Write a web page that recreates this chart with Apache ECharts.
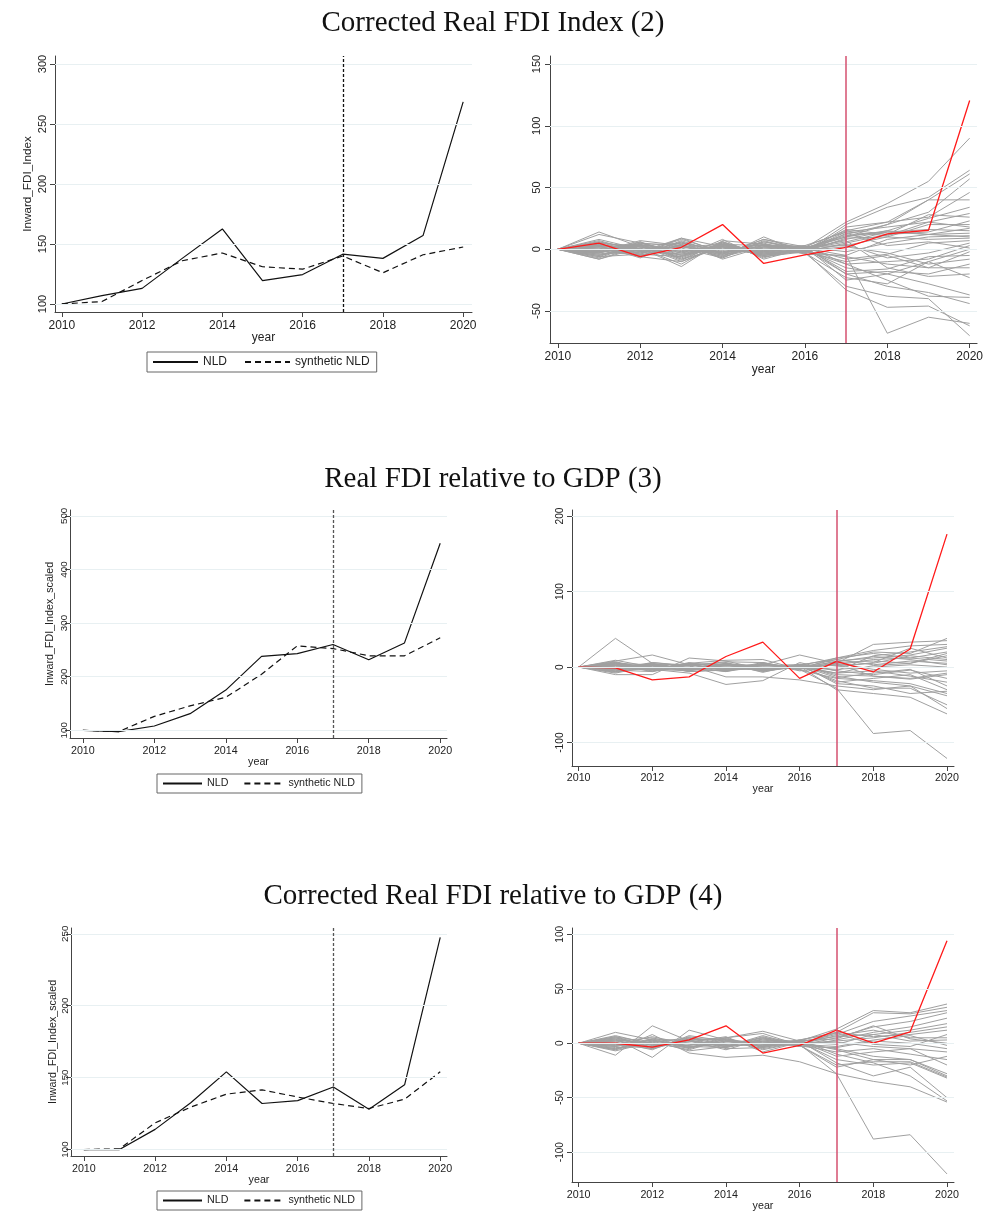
<!DOCTYPE html>
<html>
<head>
<meta charset="utf-8">
<script src="https://cdn.jsdelivr.net/npm/echarts@6/dist/echarts.min.js"></script>
<style>
  html, body { margin: 0; padding: 0; background: #fff; }
  #main { width: 986px; height: 1213px; }
</style>
</head>
<body>
<div id="main"></div>
<script>
let chart = echarts.init(document.getElementById('main'));

const years = [2010, 2011, 2012, 2013, 2014, 2015, 2016, 2017, 2018, 2019, 2020];
const yearTicks = [2010, 2012, 2014, 2016, 2018, 2020];
const treatYear = 2017;

const titles = ['Corrected Real FDI Index (2)', 'Real FDI relative to GDP (3)', 'Corrected Real FDI relative to GDP (4)'];

// panel (2): NLD vs synthetic
const nld2 = [100, 107, 113, 138, 162.5, 119.5, 124.5, 141.5, 138, 157, 268.5];
const synth2 = [100, 102, 119.5, 136, 142.5, 131, 129, 140, 126, 141, 147.5];
const yTicks2 = [100, 150, 200, 250, 300];

// panel (2): placebo gaps
const red2 = [0, 5, -6, 1.6, 20, -11.5, -4.5, 1.6, 12.4, 15.4, 120.5];
const gray2 = [
  [0, 14, 2, -3, 6, -4, 1, 22, 37, 55, 90],
  [0, 12, 5, -2, 4, 3, -2, 20, 34, 42, 64],
  [0, -8, 3, 5, -4, 8, 2, 15, 22, 40, 61],
  [0, 4, -6, -10, 2, -5, 0, 10, 20, 30, 57],
  [0, -2, 7, 3, -6, 10, -3, 18, 22, 26, 46],
  [0, 6, -4, 9, 2, -2, 1, 12, 20, 40, 40],
  [0, -5, 1, -14, 7, 4, -1, 8, 15, 25, 34],
  [0, 3, -7, 6, -8, 2, 3, 14, 18, 22, 29],
  [0, -3, 4, -8, 5, -6, -2, 5, 12, 28, 26],
  [0, 8, 0, 2, -3, 6, -1, 16, 12, 14, 23],
  [0, -6, 6, -5, 3, -3, 2, 3, 10, 20, 20],
  [0, 2, -3, 8, -2, 5, -4, -5, 8, 12, 17],
  [0, -4, 2, -6, 8, -8, 1, 11, 14, 16, 15],
  [0, 5, -5, 4, -5, 3, 0, 6, 14, 12, 13],
  [0, -1, 3, -10, 4, -2, 2, -2, 5, 10, 11],
  [0, 7, -2, 1, -7, 7, -2, 9, 10, 8, 9],
  [0, -7, 5, -3, 2, -5, 1, -8, -4, 5, 7],
  [0, 1, -6, 7, -4, 1, -1, 4, -7, -3, 5],
  [0, -2, 1, -12, 6, -7, 3, -12, -10, -8, 3],
  [0, 3, -1, 5, -1, 4, -3, 13, 3, 6, 1],
  [0, -5, 4, -2, 3, -1, 0, -15, -20, -10, 0],
  [0, 4, -3, 3, -6, 2, -2, -6, -12, -15, -2],
  [0, -3, 6, -8, 1, -4, 1, -18, -16, -6, -5],
  [0, 6, 0, -4, 4, -6, -1, 2, -3, -12, -8],
  [0, -6, -4, 6, -3, 3, 2, -20, -18, -20, -12],
  [0, 2, 3, -7, 5, -3, -2, -10, -5, -15, -15],
  [0, -1, -5, 4, -7, 6, 1, 7, -15, -22, -20],
  [0, 5, 2, -5, 2, -2, -3, -23, -28, -10, -23],
  [0, -4, -2, 9, -3, 1, 2, -25, -20, -28, -37],
  [0, 3, 4, -9, 6, -5, -1, -12, -25, -38, -39],
  [0, -8, 1, 2, -4, 8, 0, -20, -30, -35, -44],
  [0, 2, -4, -6, 3, -3, -2, -33, -47, -46, -62],
  [0, -3, 5, 3, -5, 4, 1, -5, -68, -55, -60],
  [0, 4, -2, -4, 1, -1, -3, -30, -38, -40, -70],
  [0, -2, 3, -1, -2, 2, 1, 10, 15, 12, 10],
  [0, 1, -1, 2, 4, -4, -1, 14, 11, 22, 18]
];
const yTicksGap2 = [-50, 0, 50, 100, 150];

// panel (3)
const nld3 = [100, 97.5, 108, 131, 175, 238, 243, 260, 231.5, 263, 449];
const synth3 = [100, 97.5, 126, 145.5, 161.5, 204.5, 257.5, 252.5, 239, 239, 272.5];
const yTicks3 = [100, 200, 300, 400, 500];

const red3 = [0, -1, -17, -13, 14, 33, -15, 7.5, -6.5, 24, 176];
const gray3 = [
  [0, 38, 5, -3, 4, 2, -1, 10, 20, 18, 38],
  [0, 8, 16, 3, -4, 3, 16, 5, 30, 33, 35],
  [0, -10, -10, 12, 8, -3, 2, 12, 22, 28, 30],
  [0, 5, -3, -8, -23, -18, 6, -5, 15, 20, 27],
  [0, -6, 6, 2, -13, -13, -17, -25, -30, -25, -38],
  [0, 3, -6, 5, 9, 10, -3, -28, -88, -84, -121],
  [0, -4, 2, -5, 3, -6, 1, -30, -35, -40, -62],
  [0, 6, -2, 4, -5, 5, -2, 8, 12, 16, 25],
  [0, -2, 4, -3, 5, -4, 3, -12, -20, -25, -55],
  [0, 4, -4, 6, -2, 3, -1, 3, 10, 12, 20],
  [0, -5, 3, -2, 4, -3, 2, -20, -15, -10, -30],
  [0, 2, -5, 3, -3, 6, -3, 6, 8, 5, 15],
  [0, -3, 5, -4, 2, -2, 1, -8, -5, -12, -20],
  [0, 7, -3, 2, 6, -5, 2, 2, 5, 15, 10],
  [0, -8, 2, -6, -3, 4, -4, -15, -18, -22, -35],
  [0, 3, 1, -1, -6, 2, 3, 10, 3, 8, 5],
  [0, -1, -3, 5, 3, -1, -1, -3, 0, 3, 0],
  [0, 5, 3, -3, -1, -4, 2, -10, -12, -16, -10],
  [0, -3, -2, 2, 7, 6, -3, 5, -3, -8, -5],
  [0, 2, 4, -6, -4, -2, 1, -18, -28, -28, -50],
  [0, -6, -1, 4, 1, 3, -2, 12, 18, 12, 8],
  [0, 4, -4, -2, 5, -7, 4, -5, -10, -4, -15],
  [0, -2, 6, 1, -6, 5, -5, 0, 6, 25, 12],
  [0, 9, 0, -4, 2, 1, 3, -22, -25, -35, -32],
  [0, -4, -6, 3, -2, -3, -1, 7, 14, 10, 3],
  [0, 1, 2, -1, 4, -1, 2, -14, -8, -3, -25],
  [0, -7, 3, 4, -5, 4, -2, 4, -12, -15, -8],
  [0, 6, -3, -5, 3, -5, 0, -8, 2, 5, 18]
];
const yTicksGap3 = [-100, 0, 100, 200];

// panel (4)
const nld4 = [100, 100, 114, 132.5, 154, 132, 134, 143.5, 128, 145, 247.5];
const synth4 = [100, 100.5, 118.5, 129.5, 138.5, 141.5, 136.5, 132, 128.5, 135, 154];
const yTicks4 = [100, 150, 200, 250];

const red4 = [0, 0, -3.5, 3, 16, -9, -2, 12, 0, 10.5, 94];
const gray4 = [
  [0, 10, 3, -4, 5, 11, 2, 13, 30, 28, 36],
  [0, -11, 16, 2, -3, 4, -2, 10, 28, 27, 33],
  [0, 4, -13, 12, 3, -5, 1, 8, 20, 25, 30],
  [0, -6, 8, -9, -13, -11, -17, -28, -88, -84, -120],
  [0, 6, -4, 5, -2, 3, -1, -28, -35, -40, -54],
  [0, -3, 3, -5, 4, -4, 2, -18, -30, -22, -50],
  [0, 5, -2, 3, -3, 7, -2, 5, 15, 20, 28],
  [0, -2, 4, -4, 2, -3, 3, -10, -18, -30, -53],
  [0, 3, -5, 6, -1, 5, -3, 3, 10, 15, 23],
  [0, -5, 2, -2, 5, -6, 1, -15, -20, -18, -32],
  [0, 2, 5, -3, -4, 2, 2, 6, 8, 12, 18],
  [0, -4, -3, 4, 3, -2, -1, -5, -12, -15, -30],
  [0, 7, -1, 2, -6, 4, 0, 2, 5, 10, 15],
  [0, -7, 1, -6, 4, -1, -2, -22, -15, -15, -28],
  [0, 1, -6, 7, 2, -3, 3, 10, 6, 8, 12],
  [0, -1, 6, -1, -4, 6, -3, -4, 2, 0, -5],
  [0, 4, -2, 1, 6, -8, 1, -6, -15, -20, -12],
  [0, -3, 3, -3, -1, 2, -1, 7, 12, 5, 5],
  [0, 5, -4, 4, 3, -3, 2, -12, -8, -5, -20],
  [0, -6, 2, -7, -3, 1, 0, 1, -3, -5, -8],
  [0, 2, -3, 3, 5, 9, -2, -20, -17, -17, -31],
  [0, -2, 1, 5, -5, -4, 2, 4, 16, 4, 0],
  [0, 3, -1, -4, 1, 1, -1, -3, 3, 7, -2],
  [0, -5, 4, 2, -2, -2, 3, 9, -1, -3, 8],
  [0, 6, 0, -2, 2, -1, -2, -8, -5, -10, -15],
  [0, -1, -5, 3, -3, 5, 1, -1, 8, 2, 3]
];
const yTicksGap4 = [-100, -50, 0, 50, 100];

const sans = 'Liberation Sans, Arial, sans-serif';
const serif = 'Liberation Serif, serif';
const gridColor = '#e8f0f2';
const axisColor = '#444';

// panel geometry in pixels, axis extents, font sizes and label spacing
const panels = [
  { box: [55, 56, 417, 256], xr: [2009.83, 2020.22], yr: [93.3, 306.7], yTicks: yTicks2,
    yName: 'Inward_FDI_Index', fx: 12, fy: 11, fn: 11.7, yGap: 21, yMargin: 7, xGap: 20, xMargin: 8,
    kind: 'main', nld: nld2, syn: synth2, vcolor: '#111' },
  { box: [550, 56, 428, 287], xr: [2009.81, 2020.18], yr: [-75.9, 156.5], yTicks: yTicksGap2,
    fx: 12, fy: 11, yMargin: 8, xGap: 21, xMargin: 8, kind: 'gap', red: red2, gray: gray2 },
  { box: [70, 510, 377, 228], xr: [2009.64, 2020.19], yr: [85.6, 511], yTicks: yTicks3,
    yName: 'Inward_FDI_Index_scaled', fx: 10.7, fy: 9.8, fn: 10.7, yGap: 14, yMargin: 1, xGap: 19, xMargin: 8,
    kind: 'main', nld: nld3, syn: synth3, vcolor: '#555' },
  { box: [572, 510, 382, 256], xr: [2009.82, 2020.19], yr: [-131, 208], yTicks: yTicksGap3,
    fx: 10.7, fy: 10.2, yMargin: 7, xGap: 18, xMargin: 7, kind: 'gap', red: red3, gray: gray3 },
  { box: [71, 928, 376, 228], xr: [2009.64, 2020.19], yr: [95.5, 254], yTicks: yTicks4,
    yName: 'Inward_FDI_Index_scaled', fx: 10.7, fy: 9.8, fn: 10.7, yGap: 12, yMargin: 1, xGap: 19, xMargin: 8,
    kind: 'main', nld: nld4, syn: synth4, vcolor: '#555' },
  { box: [572, 928, 382, 255], xr: [2009.82, 2020.19], yr: [-127.4, 105.8], yTicks: yTicksGap4,
    fx: 10.7, fy: 10, yMargin: 7, xGap: 19, xMargin: 7.5, kind: 'gap', red: red4, gray: gray4 }
];

const grids = [], xAxes = [], yAxes = [], series = [];

function pairs(vals) {
  return years.map((y, i) => [y, vals[i]]);
}

panels.forEach((p, gi) => {
  grids.push({ left: p.box[0], top: p.box[1], width: p.box[2], height: p.box[3], containLabel: false });
  xAxes.push({
    type: 'value', gridIndex: gi, min: p.xr[0], max: p.xr[1],
    name: 'year', nameLocation: 'middle', nameGap: p.xGap, nameMoveOverlap: false,
    nameTextStyle: { color: '#222', fontSize: p.fx, fontFamily: sans },
    axisLine: { onZero: false, lineStyle: { color: axisColor, width: 1 } },
    axisTick: { customValues: yearTicks, length: 5, lineStyle: { color: axisColor } },
    axisLabel: { customValues: yearTicks, color: '#222', fontSize: p.fx, fontFamily: sans, margin: p.xMargin,
      formatter: v => String(Math.round(v)) },
    splitLine: { show: false }
  });
  yAxes.push({
    type: 'value', gridIndex: gi, min: p.yr[0], max: p.yr[1],
    name: p.yName || '', nameLocation: 'middle', nameGap: p.yGap || 20, nameRotate: 90, nameMoveOverlap: false,
    nameTextStyle: { color: '#222', fontSize: p.fn || 11, fontFamily: sans },
    axisLine: { show: true, onZero: false, lineStyle: { color: axisColor, width: 1 } },
    axisTick: { show: true, customValues: p.yTicks, length: 5, lineStyle: { color: axisColor } },
    axisLabel: { customValues: p.yTicks, rotate: 90, color: '#222', fontSize: p.fy, fontFamily: sans, margin: p.yMargin,
      formatter: v => String(Math.round(v)) },
    splitLine: { show: false }
  });

  // light horizontal grid lines at the labelled values
  const gridLineMark = {
    silent: true, symbol: 'none', animation: false,
    label: { show: false },
    data: p.yTicks.map(v => ({ yAxis: v, lineStyle: { color: gridColor, width: 1, type: 'solid' } }))
  };

  if (p.kind === 'main') {
    series.push({
      name: 'NLD', type: 'line', xAxisIndex: gi, yAxisIndex: gi,
      data: pairs(p.nld), symbol: 'none', animation: false,
      lineStyle: { color: '#111', width: 1.2, type: 'solid' },
      itemStyle: { color: '#111' },
      markLine: gridLineMark, z: 3
    });
    series.push({
      name: 'synthetic NLD', type: 'line', xAxisIndex: gi, yAxisIndex: gi,
      data: pairs(p.syn), symbol: 'none', animation: false,
      lineStyle: { color: '#111', width: 1.2, type: [6, 4] },
      itemStyle: { color: '#111' },
      markLine: {
        silent: true, symbol: 'none', animation: false, label: { show: false },
        data: [{ xAxis: treatYear, lineStyle: { color: p.vcolor, width: 1.3, type: [3, 2] } }]
      },
      z: 4
    });
  } else {
    p.gray.forEach((g, k) => {
      series.push({
        type: 'line', xAxisIndex: gi, yAxisIndex: gi,
        data: pairs(g), symbol: 'none', animation: false, silent: true,
        lineStyle: { color: '#a0a0a0', width: 1 },
        markLine: k === 0 ? gridLineMark : undefined,
        z: 2
      });
    });
    series.push({
      type: 'line', xAxisIndex: gi, yAxisIndex: gi,
      data: pairs(p.red), symbol: 'none', animation: false,
      lineStyle: { color: '#ff1a1a', width: 1.3 },
      markLine: {
        silent: true, symbol: 'none', animation: false, label: { show: false },
        data: [{ xAxis: treatYear, lineStyle: { color: '#d4506f', width: 1.5, type: 'solid' } }]
      },
      z: 4
    });
  }
});

function legendAt(left, top, fs, iw, gap) {
  return {
    data: ['NLD', 'synthetic NLD'], left: left, top: top,
    orient: 'horizontal', itemWidth: iw, itemHeight: 11, itemGap: gap,
    padding: [4, 7, 4, 5], borderColor: '#666', borderWidth: 1,
    selectedMode: false,
    itemStyle: { opacity: 0, borderWidth: 0 },
    textStyle: { color: '#222', fontSize: fs, fontFamily: sans }
  };
}

function titleAt(text, top) {
  return { text: text, left: 'center', top: top,
    textStyle: { fontFamily: serif, fontWeight: 'normal', fontSize: 29, color: '#111' } };
}

let option = {
  backgroundColor: '#fff',
  title: [titleAt(titles[0], 4), titleAt(titles[1], 460), titleAt(titles[2], 877)],
  legend: [legendAt(147, 352, 12, 45, 17), legendAt(157, 774, 10.7, 39, 15), legendAt(157, 1191, 10.7, 39, 15)],
  grid: grids,
  xAxis: xAxes,
  yAxis: yAxes,
  series: series
};

chart.setOption(option);
</script>
</body>
</html>
